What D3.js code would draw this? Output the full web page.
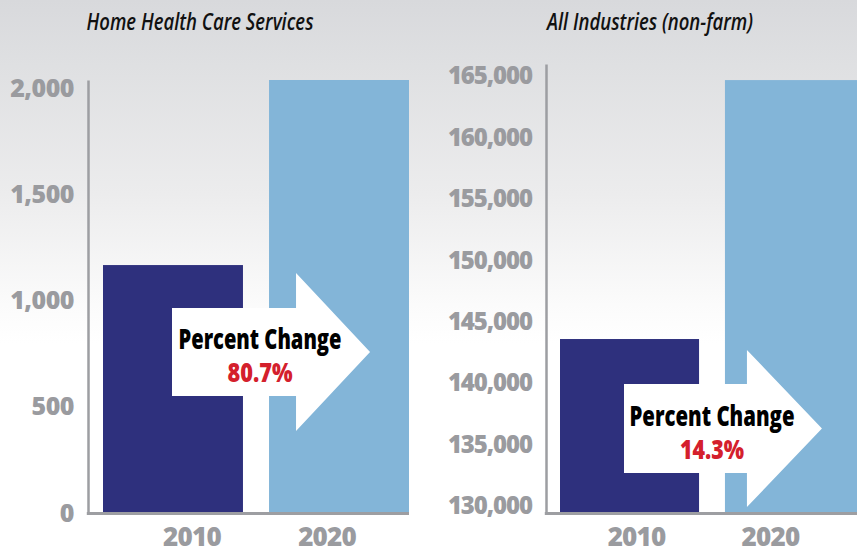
<!DOCTYPE html>
<html><head><meta charset="utf-8">
<script src="https://cdn.jsdelivr.net/npm/d3@7"></script>
<style>body{margin:0;background:#fff;overflow:hidden}svg{display:block}</style>
</head><body>
<script>
// ---- data ----
const years = ["2010", "2020"];
const homeHealthValues = [1167, 2038];
const allIndustryValues = [143600, 164690];
const homeHealthTicks = [0, 500, 1000, 1500, 2000];
const allIndustryTicks = [130000, 135000, 140000, 145000, 150000, 155000, 160000, 165000];
const panelTitles = ["Home Health Care Services", "All Industries (non-farm)"];
const percentChanges = ["80.7%", "14.3%"];
const changeLabel = "Percent Change";
const barColors = ["#2e307d", "#83b5d8"];

// ---- layout ----
const W = 857, H = 554;
const panels = [
  { values: homeHealthValues, ticks: homeHealthTicks, title: panelTitles[0], pct: percentChanges[0],
    axisX: 88, band: [103, 409], yDomain: [0, 2038], yRange: [513, 80], baseEnd: 409,
    titleX: 200, titleW: 227, tickFont: 25, tickLS: -0.5,
    arrow: { left: 172, cy: 352, bodyH: 44, headH: 79, headBaseDx: 27, tipDx: 101, textDx: 88, w1: 163, w2: 65 },
    labelDx: [19, -12] },
  { values: allIndustryValues, ticks: allIndustryTicks, title: panelTitles[1], pct: percentChanges[1],
    axisX: 546, band: [560, 864], yDomain: [129430, 166000], yRange: [513, 64], baseEnd: 857,
    titleX: 650, titleW: 206, tickFont: 24, tickLS: -1.1,
    arrow: { left: 624, cy: 428.5, bodyH: 44.5, headH: 78.5, headBaseDx: 22, tipDx: 97, textDx: 88, w1: 165, w2: 64 },
    labelDx: [7, -24] }
];

const svg = d3.select("body").append("svg").attr("width", W).attr("height", H);
const defs = svg.append("defs");
const grad = defs.append("linearGradient").attr("id", "bg").attr("x1", 0).attr("y1", 0).attr("x2", 0).attr("y2", 1);
[[0, "#d8d9dc"], [0.12, "#dfe0e2"], [0.35, "#ececed"], [0.55, "#fbfbfb"], [0.62, "#ffffff"], [1, "#ffffff"]]
  .forEach(([o, c]) => grad.append("stop").attr("offset", o).attr("stop-color", c));
svg.append("rect").attr("width", W).attr("height", H).attr("fill", "url(#bg)");

const grey = "#9d9ea2";
const tickGrey = "#9a9b9f";

panels.forEach(p => {
  const g = svg.append("g");
  const x = d3.scaleBand().domain(years).range(p.band).paddingInner(0.157).paddingOuter(0);
  const y = d3.scaleLinear().domain(p.yDomain).range(p.yRange);

  // title
  g.append("text").attr("x", p.titleX).attr("y", 30).attr("text-anchor", "middle")
    .attr("font-family", "'Open Sans', sans-serif").attr("font-style", "italic")
    .attr("font-weight", 600)
    .attr("font-size", 24).attr("fill", "#111")
    .attr("textLength", p.titleW).attr("lengthAdjust", "spacingAndGlyphs")
    .text(p.title);

  // bars
  g.selectAll("rect.bar").data(p.values).join("rect").attr("class", "bar")
    .attr("x", (d, i) => x(years[i]))
    .attr("width", x.bandwidth())
    .attr("y", d => y(d))
    .attr("height", d => y(p.yDomain[0]) - y(d))
    .attr("fill", (d, i) => barColors[i]);

  // y axis
  const ax = g.append("g").attr("transform", `translate(${p.axisX},0)`)
    .call(d3.axisLeft(y).tickValues(p.ticks).tickFormat(d3.format(",")).tickSize(0).tickPadding(14));
  ax.select(".domain").attr("stroke", grey).attr("stroke-width", 2.5);
  ax.selectAll("text").attr("font-family", "'Open Sans', sans-serif").attr("font-weight", 800)
    .attr("font-size", p.tickFont).attr("letter-spacing", p.tickLS).attr("fill", tickGrey);

  // baseline
  g.append("line").attr("x1", p.axisX - 1.2).attr("x2", p.baseEnd)
    .attr("y1", y(p.yDomain[0]) + 0.5).attr("y2", y(p.yDomain[0]) + 0.5)
    .attr("stroke", grey).attr("stroke-width", 3);

  // category labels
  g.selectAll("text.cat").data(years).join("text").attr("class", "cat")
    .attr("x", (d, i) => x(d) + x.bandwidth() / 2 + p.labelDx[i])
    .attr("y", 546).attr("text-anchor", "middle")
    .attr("font-family", "'Open Sans', sans-serif").attr("font-weight", 800)
    .attr("font-size", 26).attr("letter-spacing", -0.8).attr("fill", tickGrey)
    .text(d => d);

  // arrow
  const a = p.arrow;
  const hb = x(years[1]) + a.headBaseDx, tip = x(years[1]) + a.tipDx;
  const pts = [
    [a.left, a.cy - a.bodyH], [hb, a.cy - a.bodyH], [hb, a.cy - a.headH], [tip, a.cy],
    [hb, a.cy + a.headH], [hb, a.cy + a.bodyH], [a.left, a.cy + a.bodyH]
  ];
  g.append("path").attr("d", d3.line()(pts) + "Z").attr("fill", "#ffffff");

  const tx = a.left + a.textDx;
  g.append("text").attr("x", tx).attr("y", a.cy - 3).attr("text-anchor", "middle")
    .attr("font-family", "'Open Sans', sans-serif").attr("font-weight", 800)
    .attr("font-size", 28).attr("fill", "#000")
    .attr("textLength", a.w1).attr("lengthAdjust", "spacingAndGlyphs")
    .text(changeLabel);
  g.append("text").attr("x", tx).attr("y", a.cy + 30).attr("text-anchor", "middle")
    .attr("font-family", "'Open Sans', sans-serif").attr("font-weight", 800)
    .attr("font-size", 26).attr("fill", "#d4202c")
    .attr("textLength", a.w2).attr("lengthAdjust", "spacingAndGlyphs")
    .text(p.pct);
});
</script>
</body></html>
